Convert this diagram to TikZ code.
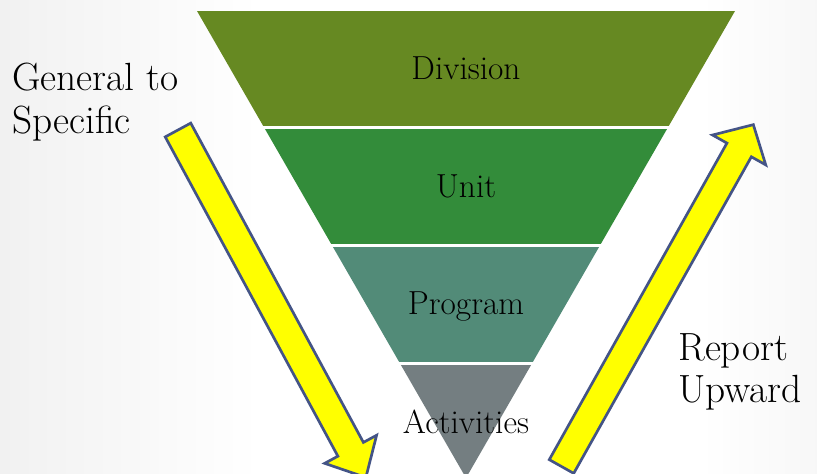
\documentclass[tikz,border=0pt]{standalone}
\usepackage{tikz}
\usetikzlibrary{positioning}

\definecolor{divisiongreen}{RGB}{102,137,34}
\definecolor{unitgreen}{RGB}{51,140,58}
\definecolor{programteal}{RGB}{82,139,120}
\definecolor{activitygrey}{RGB}{116,126,129}
\definecolor{arrowyellow}{RGB}{255,255,0}
\definecolor{arrowedge}{RGB}{68,84,134}

% tail, angle, length, shaft width, head length, head width
\newcommand{\blockarrow}[6]{%
  \begin{scope}[shift={#1},rotate=#2]
    \draw[bigarrow] (0,-#4/2) -- (#3-#5,-#4/2) -- (#3-#5,-#6/2) -- (#3,0)
      -- (#3-#5,#6/2) -- (#3-#5,#4/2) -- (0,#4/2) -- cycle;
  \end{scope}}

\begin{document}
\begin{tikzpicture}[x=0.75pt,y=-0.75pt,
    tier/.style={font=\fontsize{25}{30}\selectfont,inner sep=0pt,anchor=base},
    side/.style={font=\fontsize{29.5}{32}\selectfont,align=left,inner sep=0pt,anchor=north west},
    bigarrow/.style={draw=arrowedge,fill=arrowyellow,line width=2pt,line join=miter}
  ]
    \useasboundingbox (0,0) rectangle (817,474);
    \clip (0,0) rectangle (817,474);
    \shade[left color=gray!11,right color=white] (0,0) rectangle (260,474);
    \fill[white] (259,0) rectangle (701,474);
    \shade[left color=white,right color=gray!6] (700,0) rectangle (817,474);

    \begin{scope}
      \clip (197,11) -- (735,11) -- (466,478) -- cycle;
      \fill[divisiongreen] (0,11) rectangle (817,126);
      \fill[unitgreen] (0,129) rectangle (817,244);
      \fill[programteal] (0,247) rectangle (817,362);
      \fill[activitygrey] (0,365) rectangle (817,480);
    \end{scope}

    \node[tier] (division) at (466,80) {Division};
    \node[tier] (unit) at (466,197) {Unit};
    \node[tier] (program) at (466,314) {Program};
    \node[tier] (activities) at (466,433) {Activities};

    \coordinate (downtail) at (178,130);
    \coordinate (uptail) at (561.5,466.5);
    \blockarrow{(downtail)}{-61.6}{395}{29}{32}{59}
    \blockarrow{(uptail)}{60.7}{392}{28}{29}{61}

    \node[side] (general) at (12,63) {General to\\Specific};
    \node[side] (report) at (678,333) {Report\\Upward};
\end{tikzpicture}
\end{document}
